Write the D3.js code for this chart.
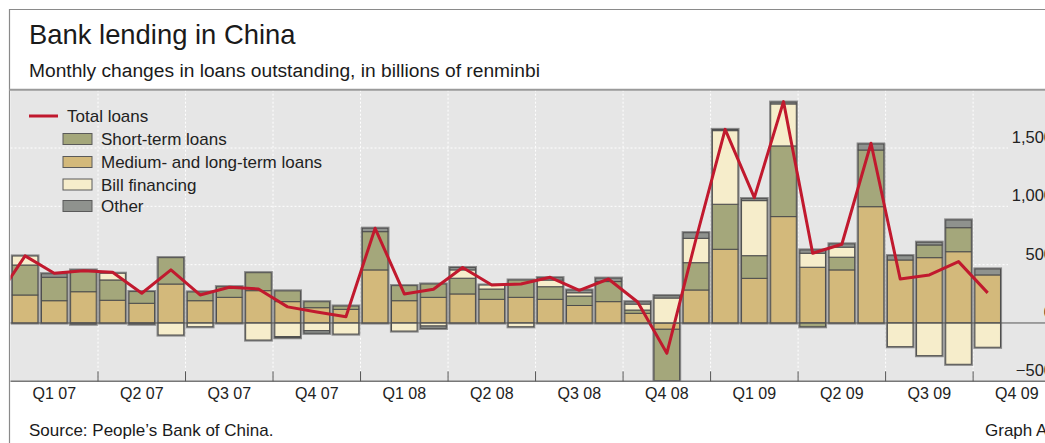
<!DOCTYPE html>
<html>
<head>
<meta charset="utf-8">
<script src="https://cdn.jsdelivr.net/npm/d3@7"></script>
<style>
  html, body { margin: 0; padding: 0; background: #fff; }
  svg { display: block; font-family: "Liberation Sans", Arial, Helvetica, sans-serif; }
</style>
</head>
<body>
<svg id="chart" width="1045" height="443"></svg>
<script>
// Monthly changes in loans outstanding (billions of renminbi), Jan 2007 – Oct 2009
const months = [
  "2007-01","2007-02","2007-03","2007-04","2007-05","2007-06",
  "2007-07","2007-08","2007-09","2007-10","2007-11","2007-12",
  "2008-01","2008-02","2008-03","2008-04","2008-05","2008-06",
  "2008-07","2008-08","2008-09","2008-10","2008-11","2008-12",
  "2009-01","2009-02","2009-03","2009-04","2009-05","2009-06",
  "2009-07","2009-08","2009-09","2009-10"
];
const mediumLongTerm = [240,191,268,195,169,334,191,220,277,183,131,117,
                        455,191,220,249,203,220,203,150,183,83,-54,283,
                        632,383,912,478,455,997,540,560,611,412];
const shortTerm      = [257,201,186,174,100,226,75,91,154,92,51,28,
                        328,129,114,135,88,148,108,81,172,28,-440,234,
                        386,194,606,-32,109,486,0,109,206,0];
const billFinancing  = [77,0,0,57,0,-103,-32,0,-146,-117,-66,-95,
                        0,-69,-26,71,34,-32,57,28,0,51,214,209,
                        631,472,360,120,86,0,-203,-280,-354,-208];
const otherLoans     = [0,30,-10,0,-10,0,0,0,0,-9,-22,0,
                        29,0,-20,20,0,0,20,23,29,20,20,48,
                        10,17,15,28,28,51,37,23,66,51];
const totalLoans     = [575,426,448,435,255,455,240,306,292,138,95,54,
                        812,249,289,475,326,334,392,280,377,180,-260,720,
                        1660,1075,1898,598,675,1541,377,412,526,258];
const totalLoansDec06 = 200;   // preceding month, so the line enters from the left edge

const quarterLabels = ["Q1 07","Q2 07","Q3 07","Q4 07","Q1 08","Q2 08",
                       "Q3 08","Q4 08","Q1 09","Q2 09","Q3 09","Q4 09"];
const yTicks = [-500, 0, 500, 1000, 1500];
const yTickLabels = ["\u2212500", "0", "500", "1,000", "1,500"];

const seriesNames = ["Medium- and long-term loans", "Short-term loans", "Bill financing", "Other"];
const seriesColors = ["#d3b97b", "#a4a77b", "#f6edcb", "#8f928e"];

// ---------- layout ----------
const svg = d3.select("#chart");
const W = 1045, H = 443;
const plotLeft = 10.5, monthStep = 29.17;
const plotTop = 89.7, plotBottom = 381.3;

const x = d3.scaleLinear().domain([0, 36]).range([plotLeft, plotLeft + 36 * monthStep]);
const y = d3.scaleLinear().domain([-500, 2000]).range([plotBottom, plotTop]);

// outer frame
svg.append("line").attr("x1", 9).attr("x2", W).attr("y1", 9.5).attr("y2", 9.5)
  .attr("stroke", "#8a8a8a").attr("stroke-width", 1.2);
svg.append("line").attr("x1", 9.5).attr("x2", 9.5).attr("y1", 9).attr("y2", H)
  .attr("stroke", "#8a8a8a").attr("stroke-width", 1.2);

// titles
svg.append("text").attr("x", 29).attr("y", 44).attr("font-size", 27.4).attr("fill", "#1a1a1a")
  .text("Bank lending in China");
svg.append("text").attr("x", 29).attr("y", 77).attr("font-size", 19.2).attr("fill", "#1a1a1a")
  .text("Monthly changes in loans outstanding, in billions of renminbi");

// plot background
svg.append("rect").attr("x", plotLeft).attr("y", plotTop).attr("width", W - plotLeft)
  .attr("height", plotBottom - plotTop).attr("fill", "#e6e6e6");

const defs = svg.append("defs");
defs.append("clipPath").attr("id", "plotClip").append("rect")
  .attr("x", plotLeft).attr("y", plotTop).attr("width", W - plotLeft).attr("height", plotBottom - plotTop);

// horizontal gridlines
const gridRight = 1008;
svg.append("g").selectAll("line").data(yTicks.filter(v => v > 0)).join("line")
  .attr("x1", plotLeft).attr("x2", gridRight)
  .attr("y1", d => y(d)).attr("y2", d => y(d))
  .attr("stroke", "#ffffff").attr("stroke-width", 1).attr("stroke-dasharray", "2,2");

// vertical gridlines at quarter boundaries
const quarterBounds = d3.range(1, 12).map(q => q * 3);
svg.append("g").selectAll("line").data(quarterBounds).join("line")
  .attr("x1", d => x(d)).attr("x2", d => x(d))
  .attr("y1", plotTop).attr("y2", plotBottom)
  .attr("stroke", "#ffffff").attr("stroke-width", 1).attr("stroke-dasharray", "2,2");

// y labels on the right (the axis runs past the right edge of the page)
svg.append("g").selectAll("text").data(yTicks).join("text")
  .attr("x", 1053).attr("y", d => y(d) - 5)
  .attr("text-anchor", "end").attr("font-size", 16.5).attr("fill", "#222")
  .text((d, i) => yTickLabels[i]);

// ---------- stacked bars ----------
const rows = months.map((m, i) => ({
  i, m,
  s0: mediumLongTerm[i], s1: shortTerm[i], s2: billFinancing[i], s3: otherLoans[i]
}));
const stack = d3.stack().keys(["s0", "s1", "s2", "s3"]).offset(d3.stackOffsetDiverging);
const layers = stack(rows);

const barPad = 1.8;
const plotG = svg.append("g").attr("clip-path", "url(#plotClip)");
const posSum = d => d3.sum([d.s0, d.s1, d.s2, d.s3].filter(v => v > 0));
const negSum = d => d3.sum([d.s0, d.s1, d.s2, d.s3].filter(v => v < 0));

// outline around each whole bar
plotG.append("g").selectAll("rect").data(rows).join("rect")
  .attr("x", d => x(d.i) + barPad - 0.8)
  .attr("width", x(1) - x(0) - 2 * barPad + 1.6)
  .attr("y", d => y(posSum(d)) - 0.8)
  .attr("height", d => y(negSum(d)) - y(posSum(d)) + 1.6)
  .attr("fill", "none").attr("stroke", "#8a8a8a").attr("stroke-width", 1.6);

plotG.append("g").selectAll("g").data(layers).join("g")
  .attr("fill", (d, k) => seriesColors[k])
  .selectAll("rect").data(d => d.filter(s => s[1] !== s[0])).join("rect")
  .attr("x", d => x(d.data.i) + barPad)
  .attr("width", x(1) - x(0) - 2 * barPad)
  .attr("y", d => y(Math.max(d[0], d[1])))
  .attr("height", d => Math.abs(y(d[0]) - y(d[1])))
  .attr("stroke", "#4d4d4d").attr("stroke-width", 1);

// zero line
svg.append("line").attr("x1", plotLeft).attr("x2", W)
  .attr("y1", y(0)).attr("y2", y(0)).attr("stroke", "#555").attr("stroke-width", 1);

// total loans line
const linePts = [[-1, totalLoansDec06]].concat(totalLoans.map((v, i) => [i, v]));
plotG.append("path").datum(linePts)
  .attr("d", d3.line().x(d => x(d[0] + 0.5)).y(d => y(d[1])))
  .attr("fill", "none").attr("stroke", "#c1192e").attr("stroke-width", 3)
  .attr("stroke-linejoin", "round");

// plot top border
svg.append("line").attr("x1", 9).attr("x2", W).attr("y1", plotTop).attr("y2", plotTop)
  .attr("stroke", "#9a9a9a").attr("stroke-width", 2);

// bottom axis
svg.append("line").attr("x1", plotLeft).attr("x2", W).attr("y1", plotBottom).attr("y2", plotBottom)
  .attr("stroke", "#777").attr("stroke-width", 1.5);
svg.append("g").selectAll("line").data(quarterBounds).join("line")
  .attr("x1", d => x(d)).attr("x2", d => x(d))
  .attr("y1", plotBottom - 10).attr("y2", plotBottom)
  .attr("stroke", "#555").attr("stroke-width", 1);
svg.append("g").selectAll("text").data(quarterLabels).join("text")
  .attr("x", (d, q) => x(q * 3 + 1.5)).attr("y", 399)
  .attr("text-anchor", "middle").attr("font-size", 16).attr("fill", "#222")
  .text(d => d);

// ---------- legend ----------
const lg = svg.append("g");
lg.append("line").attr("x1", 29).attr("x2", 58).attr("y1", 116).attr("y2", 116)
  .attr("stroke", "#c1192e").attr("stroke-width", 3);
lg.append("text").attr("x", 67).attr("y", 122).attr("font-size", 17).attr("fill", "#222")
  .text("Total loans");
const legendOrder = [1, 0, 2, 3];
const legendY = [139, 162, 184.5, 206];
lg.selectAll("rect.sw").data(legendOrder).join("rect")
  .attr("x", 63).attr("y", (d, k) => legendY[k] - 5.5).attr("width", 29).attr("height", 11)
  .attr("fill", d => seriesColors[d]).attr("stroke", "#5a5a5a").attr("stroke-width", 1);
lg.selectAll("text.lbl").data(legendOrder).join("text")
  .attr("x", 101).attr("y", (d, k) => legendY[k] + 6).attr("font-size", 17).attr("fill", "#222")
  .text(d => seriesNames[d]);

// footer
svg.append("text").attr("x", 29).attr("y", 436).attr("font-size", 17).attr("fill", "#1a1a1a")
  .text("Source: People\u2019s Bank of China.");
svg.append("text").attr("x", 985).attr("y", 436)
  .attr("font-size", 17).attr("fill", "#1a1a1a").text("Graph A");
</script>
</body>
</html>
